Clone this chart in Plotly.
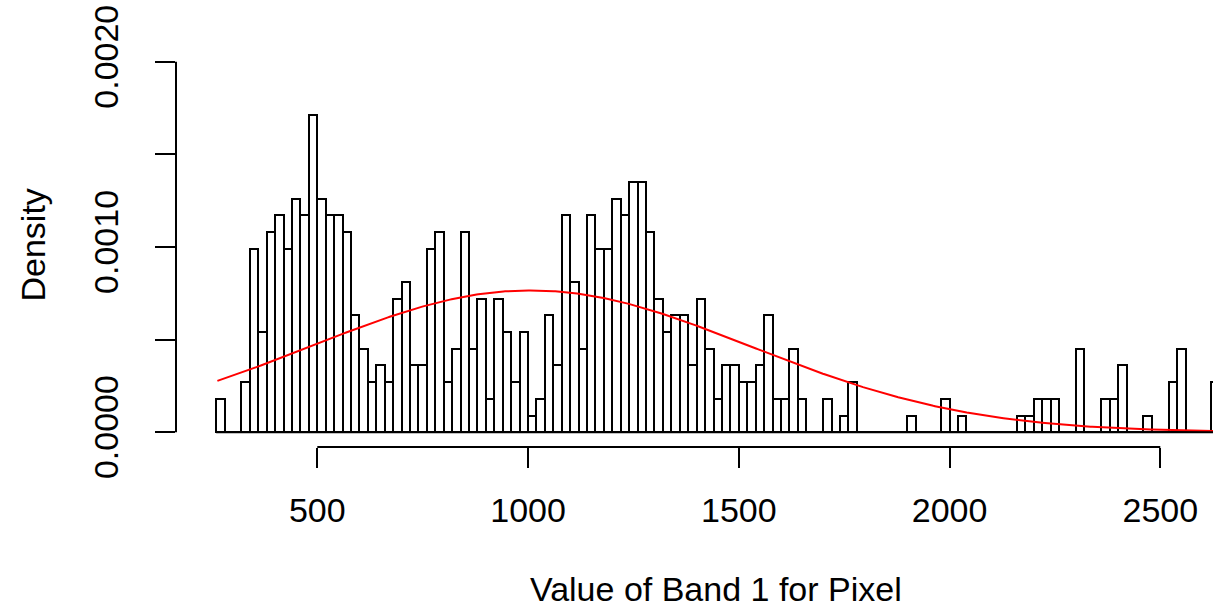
import numpy as np
import plotly.graph_objects as go

# ---- data ----
bin_start = 260
bin_width = 20
counts = [
    2, 0, 0, 3, 11, 6, 12, 13, 11, 14,      # 260-460
    13, 19, 14, 13, 13, 12, 7, 5, 3, 4,     # 460-660
    3, 8, 9, 4, 4, 11, 12, 3, 5, 12,        # 660-860
    5, 8, 2, 8, 6, 3, 6, 1, 2, 7,           # 860-1060
    4, 13, 9, 5, 13, 11, 11, 14, 13, 15,    # 1060-1260
    15, 12, 8, 6, 7, 7, 4, 8, 5, 2,         # 1260-1460
    4, 4, 3, 3, 4, 7, 2, 2, 5, 2,           # 1460-1660
    0, 0, 2, 0, 1, 3, 0, 0, 0, 0,           # 1660-1860
    0, 0, 1, 0, 0, 0, 2, 0, 1, 0,           # 1860-2060
    0, 0, 0, 0, 0, 1, 1, 2, 2, 2,           # 2060-2260
    0, 0, 5, 0, 0, 2, 2, 4, 0, 0,           # 2260-2460
    1, 0, 0, 3, 5, 0, 0, 0, 3,              # 2460-2640
]
norm_mean = 1006.0
norm_sd = 521.0
curve_from = 263.0
curve_to = 2640.0

x_ticks = [500, 1000, 1500, 2000, 2500]
x_tick_labels = ["500", "1000", "1500", "2000", "2500"]
y_ticks = [0.0, 0.0005, 0.0010, 0.0015, 0.0020]
# R drops the labels that would overlap; only every other one is shown
y_tick_labels = ["0.0000", "", "0.0010", "", "0.0020"]

x_title = "Value of Band 1 for Pixel"
y_title = "Density"

# ---- derived ----
counts_arr = np.array(counts, dtype=float)
n_total = counts_arr.sum()
density = counts_arr / (n_total * bin_width)
left_edges = bin_start + bin_width * np.arange(len(counts))
centers = left_edges + bin_width / 2.0
bin_end = bin_start + bin_width * len(counts)

cx = np.linspace(curve_from, curve_to, 600)
cy = np.exp(-0.5 * ((cx - norm_mean) / norm_sd) ** 2) / (norm_sd * np.sqrt(2 * np.pi))

FONT = "Liberation Sans, Arial, sans-serif"
FS = 34

fig = go.Figure()
fig.add_trace(go.Bar(
    x=centers, y=density, width=bin_width,
    marker=dict(color="white", line=dict(color="black", width=2)),
    hoverinfo="x+y",
))
fig.add_trace(go.Scatter(
    x=cx, y=cy, mode="lines",
    line=dict(color="#ff0000", width=2),
    hoverinfo="skip",
))

W, H = 1213, 610
ml, mr, mt, mb = 176, 0, 47, 163
plot_w = W - ml - mr
plot_h = H - mt - mb
px_per_unit = 0.4215
x_lo = 164.8
x_hi = x_lo + plot_w / px_per_unit

fig.update_layout(
    width=W, height=H,
    margin=dict(l=ml, r=mr, t=mt, b=mb, pad=0, autoexpand=False),
    plot_bgcolor="white", paper_bgcolor="white",
    showlegend=False, bargap=0,
    font=dict(family=FONT, size=FS, color="black"),
    xaxis=dict(
        range=[x_lo, x_hi], tickmode="array", tickvals=x_ticks, ticktext=x_tick_labels,
        ticks="outside", ticklen=20, tickwidth=2, tickcolor="black",
        ticklabelstandoff=13, automargin=False,
        showline=False, showgrid=False, zeroline=False,
        tickfont=dict(family=FONT, size=FS, color="black"),
    ),
    yaxis=dict(
        range=[-0.00008, 0.00208], tickmode="array", tickvals=y_ticks, ticktext=y_tick_labels,
        tickangle=-90, ticklabelstandoff=23, automargin=False,
        ticks="outside", ticklen=20, tickwidth=2, tickcolor="black",
        showline=False, showgrid=False, zeroline=False,
        tickfont=dict(family=FONT, size=FS, color="black"),
    ),
    shapes=[
        dict(type="line", xref="x", yref="y", x0=bin_start, x1=bin_end, y0=0, y1=0,
             line=dict(color="black", width=2), layer="above"),
        dict(type="line", xref="x", yref="paper", x0=x_ticks[0], x1=x_ticks[-1], y0=0, y1=0,
             line=dict(color="black", width=2), layer="above"),
        dict(type="line", xref="paper", yref="y", x0=0, x1=0, y0=y_ticks[0], y1=y_ticks[-1],
             line=dict(color="black", width=2), layer="above"),
    ],
    annotations=[
        dict(text=x_title, xref="paper", yref="paper",
             x=(716 - ml) / plot_w, y=-(589 - (mt + plot_h)) / plot_h,
             xanchor="center", yanchor="middle", showarrow=False,
             font=dict(family=FONT, size=FS, color="black")),
        dict(text=y_title, xref="paper", yref="paper",
             x=(32.5 - ml) / plot_w, y=((mt + plot_h) - 245) / plot_h,
             xanchor="center", yanchor="middle", showarrow=False, textangle=-90,
             font=dict(family=FONT, size=FS, color="black")),
    ],
)

fig.write_html(
    "out.html",
    config={"displayModeBar": False},
    post_script="document.body.style.margin='0';document.body.style.overflow='hidden';",
)
